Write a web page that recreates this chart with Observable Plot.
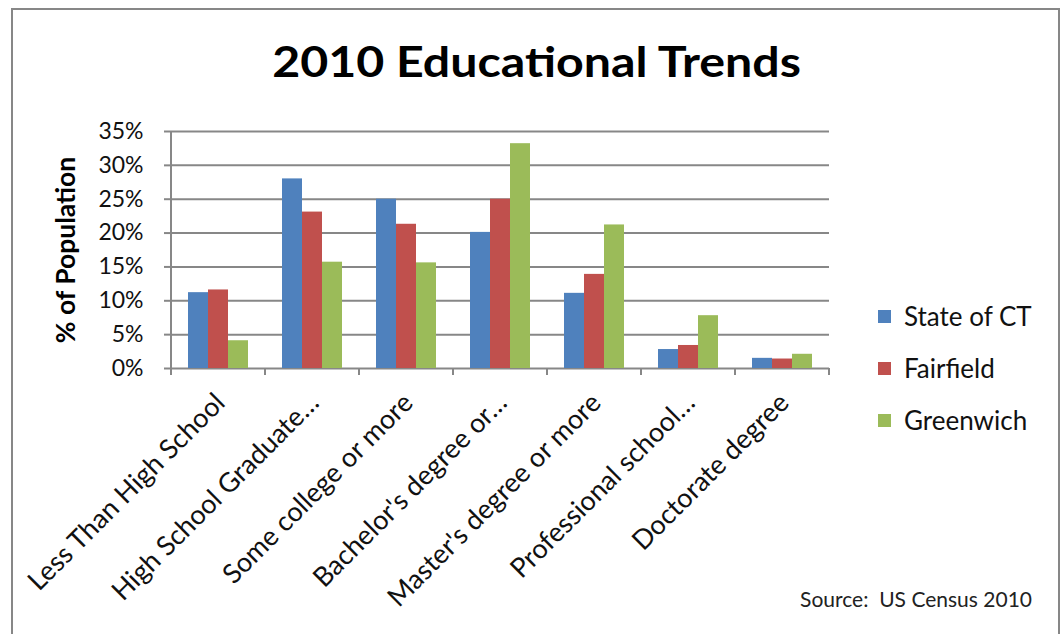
<!DOCTYPE html>
<html>
<head>
<meta charset="utf-8">
<script src="https://cdn.jsdelivr.net/npm/d3@7"></script>
<script src="https://cdn.jsdelivr.net/npm/@observablehq/plot@0.6"></script>
<style>
  html, body { margin: 0; padding: 0; background: #fff; }
  #chart { position: relative; width: 1062px; height: 634px; overflow: hidden; background: #fff; font-family: Lato, "Open Sans", sans-serif; }
  #frame { position: absolute; left: 11px; top: 8px; width: 1049px; height: 700px; border: 2px solid #878787; box-sizing: border-box; }
  #plot { position: absolute; left: 0; top: 0; }
  #title { position: absolute; left: 0; width: 1073px; text-align: center; top: 40px; font-size: 42px; line-height: 42px; font-weight: bold; color: #000; white-space: nowrap; transform: scaleX(1.15); transform-origin: 536.5px 50%; }
  #legend { position: absolute; left: 878px; top: 303px; }
  #source { position: absolute; right: 30px; top: 588px; font-size: 21px; line-height: 21px; color: #222; white-space: pre; }
  .lg-swatch { height: 26px; margin-bottom: 26px !important; padding-bottom: 0 !important; }
</style>
</head>
<body>
<div id="chart">
  <div id="frame"></div>
  <div id="plot"></div>
  <div id="title">2010 Educational Trends</div>
  <div id="legend"></div>
  <div id="source">Source:  US Census 2010</div>
</div>
<script>
const categories = ["Less Than High School", "High School Graduate…", "Some college or more", "Bachelor's degree or…", "Master's degree or more", "Professional school…", "Doctorate degree"];
const series = ["State of CT", "Fairfield", "Greenwich"];
const stateCT   = [11.2, 28.0, 25.0, 20.1, 11.1, 2.8, 1.5];
const fairfield = [11.6, 23.1, 21.3, 25.0, 13.9, 3.4, 1.4];
const greenwich = [4.1, 15.7, 15.6, 33.2, 21.2, 7.8, 2.1];
const yTicks = [0, 5, 10, 15, 20, 25, 30, 35];
const colors = ["#4F81BD", "#C0504D", "#9BBB59"];
const yLabel = "% of Population";

const valuesBySeries = [stateCT, fairfield, greenwich];
const table = categories.flatMap((c, i) => series.map((s, j) => ({category: c, series: s, value: valuesBySeries[j][i]})));

const gridColor = "#878787";

const plot = Plot.plot({
  width: 1062,
  height: 634,
  marginLeft: 170,
  marginRight: 232,
  marginTop: 131,
  marginBottom: 266,
  style: {fontFamily: "Lato, 'Open Sans', sans-serif", background: "transparent", color: "#111"},
  fx: {domain: categories, padding: 0, axis: null},
  x: {domain: series, paddingInner: 0, paddingOuter: 0.745, axis: null},
  y: {domain: [0, 35], axis: null},
  color: {domain: series, range: colors},
  marks: [
    Plot.gridY(yTicks, {stroke: gridColor, strokeOpacity: 1, strokeWidth: 2}),
    Plot.barY(table, {fx: "category", x: "series", y: "value", fill: "series"}),
    Plot.axisY(yTicks, {tickFormat: d => d + "%", tickSize: 7, tickPadding: 21, fontSize: 23, stroke: gridColor, strokeWidth: 2, label: null, fill: "#111"}),
    Plot.text(categories, {fx: d => d, text: d => d, frameAnchor: "bottom", rotate: -45, textAnchor: "end", dx: 8, dy: 36, fontSize: 27, fill: "#111"}),
    Plot.text([yLabel], {text: d => d, frameAnchor: "left", rotate: -90, textAnchor: "middle", dx: -105, fontSize: 26.5, fontWeight: "bold", fill: "#000", facetAnchor: "left"})
  ]
});

// axis line and category boundary ticks, positioned from the plot's own scales
const fx = plot.scale("fx");
const y = plot.scale("y");
const y0 = y.apply(0), yTop = y.apply(35);
const bounds = categories.map(c => fx.apply(c)).concat([fx.apply(categories[categories.length - 1]) + fx.bandwidth]);
const g = d3.select(plot).append("g").attr("stroke", gridColor).attr("stroke-width", 2);
g.selectAll("line.tick").data(bounds).join("line")
  .attr("x1", d => d).attr("x2", d => d).attr("y1", y0).attr("y2", y0 + 7);
g.append("line").attr("x1", bounds[0]).attr("x2", bounds[0]).attr("y1", yTop).attr("y2", y0 + 7);

document.getElementById("plot").appendChild(plot);

const legend = plot.legend("color", {legend: "swatches", columns: 1, swatchSize: 13, className: "lg", style: {fontSize: "26px", fontFamily: "Lato, 'Open Sans', sans-serif", color: "#111"}});
document.getElementById("legend").appendChild(legend);
</script>
</body>
</html>
